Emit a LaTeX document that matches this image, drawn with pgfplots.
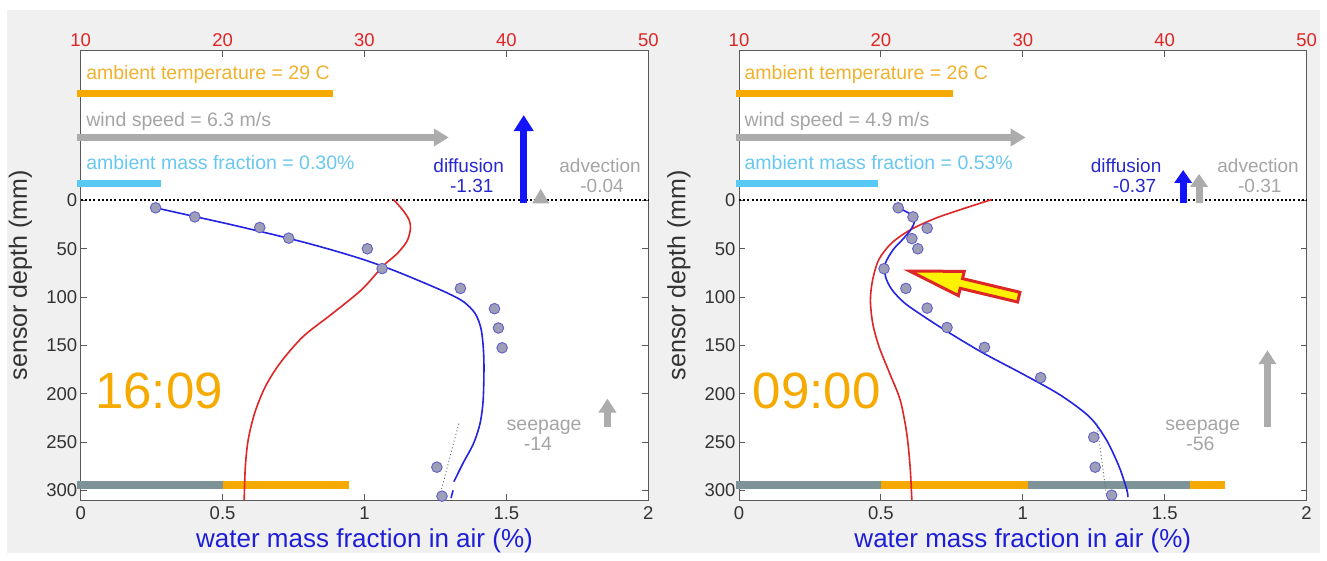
\documentclass[border=0pt]{standalone}
\usepackage{pgfplots}
\pgfplotsset{compat=1.18}
\usepackage{fontspec}
\setmainfont{Liberation Sans}
\newfontfamily\serifT{Liberation Serif}
\usetikzlibrary{arrows.meta}

\definecolor{figbg}{RGB}{240,240,240}
\definecolor{orng}{RGB}{246,170,0}
\definecolor{orngtext}{RGB}{240,178,45}
\definecolor{windgray}{RGB}{172,172,172}
\definecolor{graytext}{RGB}{165,165,165}
\definecolor{skyblue}{RGB}{88,200,245}
\definecolor{skytext}{RGB}{105,200,240}
\definecolor{fitblue}{RGB}{35,35,225}
\definecolor{diffblue}{RGB}{20,20,250}
\definecolor{difftext}{RGB}{40,40,205}
\definecolor{xblue}{RGB}{30,30,215}
\definecolor{tred}{RGB}{222,38,38}
\definecolor{slate}{RGB}{125,147,152}
\definecolor{markfill}{RGB}{158,158,182}
\definecolor{markedge}{RGB}{95,95,205}

\newcommand\annot{\fontsize{19.5}{21}\selectfont}
\newcommand\flux{\fontsize{19}{20}\selectfont}

\pgfplotsset{
  panel/.style={
    scale only axis, width=567.6pt, height=449.3pt, anchor=south west,
    xmin=0, xmax=2, ymin=-155, ymax=310, y dir=reverse,
    xtick={0,0.5,1,1.5,2}, ytick={0,50,100,150,200,250,300},
    tick align=inside, major tick length=6pt,
    axis line style={draw=black!65, line width=0.9pt},
    tick style={draw=black!65, line width=0.9pt},
    axis background/.style={fill=white},
    clip=false,
    /pgf/number format/assume math mode=true,
    tick label style={font=\fontsize{18.5}{19}\selectfont, text=black!80},
    xticklabel style={yshift=-3pt},
    xlabel={water mass fraction in air (\%)},
    xlabel style={font=\fontsize{26}{27}\selectfont, text=xblue,
      at={(axis description cs:0.5,-0.091)}, anchor=center},
    ylabel={sensor depth (mm)},
    ylabel style={font=\fontsize{25}{26}\selectfont, text=black!80,
      at={(axis description cs:-0.106,0.5)}, anchor=center},
  },
  tempaxis/.style={
    scale only axis, width=567.6pt, height=449.3pt, anchor=south west,
    xmin=10, xmax=50, ymin=0, ymax=1,
    axis x line*=top, hide y axis, xtick={10,20,30,40,50},
    major tick length=0pt, axis line style={draw=none},
    /pgf/number format/assume math mode=true,
    xticklabel style={font=\fontsize{18.5}{19}\selectfont, text=tred},
  },
  fitline/.style={fitblue, line width=1.6pt, smooth, tension=0.5, no marks},
  templine/.style={tred, line width=1.6pt, smooth, tension=0.5, no marks},
  sensors/.style={only marks, mark=*, mark size=5.3pt,
    mark options={fill=markfill, draw=markedge, line width=0.9pt}},
  guide/.style={black!60, line width=0.9pt, dash pattern=on 1pt off 2.5pt, no marks},
}

\begin{document}
\begin{tikzpicture}[x=1pt,y=1pt]
\fill[white] (0,0) rectangle (1327,560);
\fill[figbg] (7,7) rectangle (1320,550);

% ---------------- afternoon profile ----------------
\begin{axis}[panel, at={(80.7pt,60pt)}]
  % ambient conditions
  \draw[orng, line width=7pt] (axis cs:-0.013,-111) -- (axis cs:0.888,-111);
  \node[anchor=base west, text=orngtext, font=\annot, inner sep=0pt] at (axis cs:0.019,-125.2) {ambient temperature = 29 C};
  \draw[windgray, line width=6.5pt, -{Triangle[length=15pt,width=17pt]}] (axis cs:-0.013,-65.2) -- (axis cs:1.297,-65.2);
  \node[anchor=base west, text=graytext, font=\annot, inner sep=0pt] at (axis cs:0.019,-76.5) {wind speed = 6.3 m/s};
  \draw[skyblue, line width=7pt] (axis cs:-0.013,-17.9) -- (axis cs:0.282,-17.9);
  \node[anchor=base west, text=skytext, font=\annot, inner sep=0pt] at (axis cs:0.019,-31.7) {ambient mass fraction = 0.30\%};
  % surface
  \draw[black, line width=2pt, dash pattern=on 2pt off 2.2pt] (axis cs:0,0) -- (axis cs:2,0);
  % fluxes
  \draw[diffblue, line width=7.5pt, -{Triangle[length=16pt,width=19pt]}] (axis cs:1.561,3) -- (axis cs:1.561,-88.4);
  \fill[windgray] ([xshift=-8.5pt]axis cs:1.621,3) -- ([xshift=8.5pt]axis cs:1.621,3) -- (axis cs:1.621,-12) -- cycle;
  \node[anchor=base, text=difftext, font=\flux, inner sep=0pt] at (axis cs:1.367,-28.5) {diffusion};
  \node[anchor=base, text=difftext, font=\flux, inner sep=0pt] at (axis cs:1.378,-8.5) {-1.31};
  \node[anchor=base, text=graytext, font=\flux, inner sep=0pt] at (axis cs:1.830,-28.5) {advection};
  \node[anchor=base, text=graytext, font=\flux, inner sep=0pt] at (axis cs:1.837,-8.5) {-0.04};
  \draw[windgray, line width=7.5pt, -{Triangle[length=14pt,width=17pt]}] (axis cs:1.856,234) -- (axis cs:1.856,205);
  \node[anchor=base, text=graytext, font=\annot, inner sep=0pt] at (axis cs:1.633,238.3) {seepage};
  \node[anchor=base, text=graytext, font=\annot, inner sep=0pt] at (axis cs:1.611,258.6) {-14};
  % soil surface bar
  \draw[slate, line width=8pt] (axis cs:-0.013,294) -- (axis cs:0.5,294);
  \draw[orng, line width=8pt] (axis cs:0.5,294) -- (axis cs:0.944,294);
  % clock
  \node[anchor=base, text=orng, font=\fontsize{51}{52}\selectfont, inner sep=0pt] at (axis cs:0.276,215) {16:09};

  \addplot[guide] coordinates {(1.332,231) (1.265,306)};
  \addplot[templine] coordinates {
    (1.102,-1) (1.135,10) (1.157,20) (1.162,29) (1.150,42) (1.115,55) (1.065,68)
    (0.991,92) (0.887,117) (0.783,141) (0.702,168.5) (0.650,193) (0.613,220)
    (0.590,248) (0.580,276) (0.576,310)};
  \addplot[fitline] coordinates {
    (0.264,7.6) (0.4,16.5) (0.5,23) (0.6,29.8) (0.7,36.8) (0.8,44.3)
    (0.9,52.5) (1.0,61.5) (1.1,72) (1.2,84) (1.29,95.5) (1.35,105)
    (1.39,117) (1.41,132) (1.418,150) (1.421,172)
    (1.418,207) (1.407,231) (1.384,251.6) (1.347,272) (1.315,291)};
  \addplot[fitblue, line width=1.6pt, no marks] coordinates {(1.312,300) (1.305,308)};
  \addplot[sensors] coordinates {
    (0.264,7.6) (0.402,17) (0.631,28) (0.733,39) (1.01,50) (1.062,70.5)
    (1.338,91) (1.458,112) (1.472,132) (1.485,152.5) (1.255,276) (1.273,306)};
\end{axis}
\begin{axis}[tempaxis, at={(80.7pt,60pt)}]
  \node[anchor=base, text=tred, font=\serifT\fontsize{29}{30}\selectfont, inner sep=0pt, yshift=18.4pt] at (axis cs:35.0,1) {T(°C)};
\end{axis}

% ---------------- morning profile ----------------
\begin{axis}[panel, at={(739pt,60pt)}]
  \draw[orng, line width=7pt] (axis cs:-0.011,-111) -- (axis cs:0.755,-111);
  \node[anchor=base west, text=orngtext, font=\annot, inner sep=0pt] at (axis cs:0.019,-125.2) {ambient temperature = 26 C};
  \draw[windgray, line width=6.5pt, -{Triangle[length=15pt,width=17pt]}] (axis cs:-0.011,-65.2) -- (axis cs:1.010,-65.2);
  \node[anchor=base west, text=graytext, font=\annot, inner sep=0pt] at (axis cs:0.019,-76.5) {wind speed = 4.9 m/s};
  \draw[skyblue, line width=7pt] (axis cs:-0.011,-17.9) -- (axis cs:0.489,-17.9);
  \node[anchor=base west, text=skytext, font=\annot, inner sep=0pt] at (axis cs:0.019,-31.7) {ambient mass fraction = 0.53\%};
  \draw[black, line width=2pt, dash pattern=on 2pt off 2.2pt] (axis cs:0,0) -- (axis cs:2,0);
  \draw[diffblue, line width=7pt, -{Triangle[length=13pt,width=17pt]}] (axis cs:1.565,3) -- (axis cs:1.565,-31.6);
  \draw[windgray, line width=7pt, -{Triangle[length=13pt,width=17pt]}] (axis cs:1.621,3) -- (axis cs:1.621,-27.5);
  \node[anchor=base, text=difftext, font=\flux, inner sep=0pt] at (axis cs:1.364,-28.5) {diffusion};
  \node[anchor=base, text=difftext, font=\flux, inner sep=0pt] at (axis cs:1.394,-8.5) {-0.37};
  \node[anchor=base, text=graytext, font=\flux, inner sep=0pt] at (axis cs:1.829,-28.5) {advection};
  \node[anchor=base, text=graytext, font=\flux, inner sep=0pt] at (axis cs:1.835,-8.5) {-0.31};
  \draw[windgray, line width=7.5pt, -{Triangle[length=14pt,width=17pt]}] (axis cs:1.862,234) -- (axis cs:1.862,155);
  \node[anchor=base, text=graytext, font=\annot, inner sep=0pt] at (axis cs:1.634,238.3) {seepage};
  \node[anchor=base, text=graytext, font=\annot, inner sep=0pt] at (axis cs:1.626,258.6) {-56};
  \draw[slate, line width=8pt] (axis cs:-0.011,294) -- (axis cs:0.50,294);
  \draw[orng, line width=8pt] (axis cs:0.50,294) -- (axis cs:1.02,294);
  \draw[slate, line width=8pt] (axis cs:1.02,294) -- (axis cs:1.588,294);
  \draw[orng, line width=8pt] (axis cs:1.588,294) -- (axis cs:1.712,294);
  \node[anchor=base, text=orng, font=\fontsize{51}{52}\selectfont, inner sep=0pt] at (axis cs:0.274,215) {09:00};

  \addplot[guide] coordinates {(1.261,231) (1.295,306)};
  \addplot[templine] coordinates {
    (0.891,-1) (0.800,7.6) (0.696,18) (0.606,30) (0.538,44) (0.493,61)
    (0.471,82) (0.463,103) (0.471,127) (0.493,151) (0.531,179) (0.568,206.6)
    (0.591,241) (0.603,276) (0.609,310)};
  \addplot[fitline] coordinates {
    (0.561,7.6) (0.606,14.5) (0.618,21.5) (0.606,30) (0.576,40.5) (0.543,51)
    (0.516,65) (0.516,78.5) (0.538,92) (0.583,106) (0.651,120) (0.741,137)
    (0.861,158) (0.996,179) (1.130,201) (1.235,224) (1.295,248) (1.340,276)
    (1.367,300) (1.370,307)};
  \addplot[sensors] coordinates {
    (0.561,7.6) (0.613,17) (0.663,28.7) (0.609,39.4) (0.630,50) (0.511,70.6)
    (0.588,91) (0.663,111.4) (0.733,131.5) (0.865,152) (1.063,183.4)
    (1.250,245) (1.255,276) (1.313,305)};
  \coordinate (tip) at (axis cs:0.595,72.7);
\end{axis}
\begin{axis}[tempaxis, at={(739pt,60pt)}]
  \node[anchor=base, text=tred, font=\serifT\fontsize{29}{30}\selectfont, inner sep=0pt, yshift=18.4pt] at (axis cs:34.9,1) {T(°C)};
\end{axis}

% pointer to the dry layer
\begin{scope}[shift={(tip)}, rotate=-13.4]
  \draw[tred, fill=yellow, line width=3pt, line join=miter]
    (2,0) -- (55,12.5) -- (55,5) -- (114,5) -- (114,-5) -- (55,-5) -- (55,-12.5) -- cycle;
\end{scope}
\end{tikzpicture}
\end{document}
